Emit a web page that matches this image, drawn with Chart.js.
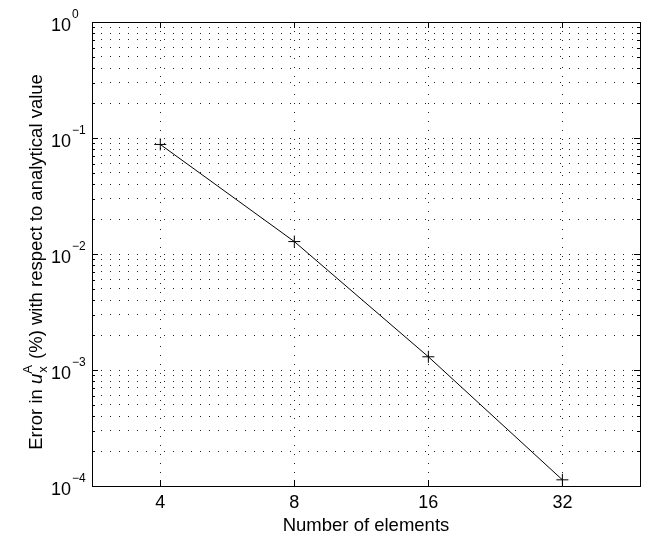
<!DOCTYPE html>
<html>
<head>
<meta charset="utf-8">
<script src="https://cdn.jsdelivr.net/npm/chart.js@4.4.1/dist/chart.umd.min.js"></script>
<style>
  html, body { margin: 0; padding: 0; background: #fff; }
  #wrap { width: 647px; height: 537px; position: relative; }
</style>
</head>
<body>
<div id="wrap"><canvas id="convChart"></canvas></div>
<script>
// Convergence of the error versus mesh refinement
const nElements = [4, 8, 16, 32];
const errorPct = [0.088, 0.0128, 0.0013, 0.000113];
const xTickValues = [4, 8, 16, 32];
const yDecades = [0, -1, -2, -3, -4];

const FONT = '"Liberation Sans", Arial, Helvetica, sans-serif';

// ticks for every 1..9 x 10^n on the log axis
function logTicks(minExp, maxExp) {
    const out = [];
    for (let e = minExp; e < maxExp; e++) {
        for (let k = 1; k <= 9; k++) out.push({ value: k * Math.pow(10, e) });
    }
    out.push({ value: Math.pow(10, maxExp) });
    return out;
}

// box, inward tick marks, 10^n labels and the y title with sub/superscripts
const matlabAxes = {
    id: 'matlabAxes',
    afterDraw(chart) {
        const ctx = chart.ctx;
        const a = chart.chartArea;
        const xs = chart.scales.x;
        const ys = chart.scales.y;
        ctx.save();
        ctx.strokeStyle = '#000';
        ctx.lineWidth = 1;
        ctx.strokeRect(Math.round(a.left) + 0.5, Math.round(a.top) + 0.5,
            Math.round(a.right - a.left), Math.round(a.bottom - a.top));

        ctx.beginPath();
        xTickValues.forEach(v => {
            const px = Math.round(xs.getPixelForValue(v)) + 0.5;
            ctx.moveTo(px, a.bottom); ctx.lineTo(px, a.bottom - 6);
            ctx.moveTo(px, a.top); ctx.lineTo(px, a.top + 6);
        });
        ys.ticks.forEach(t => {
            const py = Math.round(ys.getPixelForValue(t.value)) + 0.5;
            const major = Math.abs(Math.log10(t.value) - Math.round(Math.log10(t.value))) < 1e-9;
            const len = major ? 6 : 3;
            ctx.moveTo(a.left, py); ctx.lineTo(a.left + len, py);
            ctx.moveTo(a.right, py); ctx.lineTo(a.right - len, py);
        });
        ctx.stroke();

        // y tick labels: 10 with raised exponent
        ctx.fillStyle = '#000';
        ctx.textBaseline = 'alphabetic';
        yDecades.forEach(e => {
            const py = ys.getPixelForValue(Math.pow(10, e));
            ctx.font = '18px ' + FONT;
            ctx.textAlign = 'right';
            ctx.fillText('10', 71, py + 8.5);
            ctx.font = '12px ' + FONT;
            ctx.textAlign = 'left';
            ctx.fillText(e === 0 ? '0' : '\u2212' + Math.abs(e), 72, py - 4);
        });

        // rotated y title
        const parts = [
            { t: 'Error in ', f: '18.5px ' + FONT },
            { t: 'u', f: 'italic 18.5px ' + FONT },
            { sup: 'A', sub: 'x', f: '13px ' + FONT },
            { t: ' (%) with respect to analytical value', f: '18.5px ' + FONT }
        ];
        let total = 0;
        parts.forEach(p => {
            ctx.font = p.f;
            p.w = p.t !== undefined ? ctx.measureText(p.t).width
                : Math.max(ctx.measureText(p.sup).width, ctx.measureText(p.sub).width) + 1;
            total += p.w;
        });
        const cy = (a.top + a.bottom) / 2 + 8;
        ctx.translate(42, cy);
        ctx.rotate(-Math.PI / 2);
        ctx.textAlign = 'left';
        let x = -total / 2;
        parts.forEach(p => {
            ctx.font = p.f;
            if (p.t !== undefined) {
                ctx.fillText(p.t, x, 0);
            } else {
                ctx.fillText(p.sup, x, -10);
                ctx.fillText(p.sub, x + 1, 5);
            }
            x += p.w;
        });
        ctx.restore();
    }
};

const ctx = document.getElementById('convChart').getContext('2d');
new Chart(ctx, {
    type: 'line',
    data: {
        labels: nElements,
        datasets: [{
            data: nElements.map((n, i) => ({ x: n, y: errorPct[i] })),
            borderColor: '#000',
            borderWidth: 1,
            pointStyle: 'cross',
            pointRadius: 6,
            pointBorderWidth: 1,
            pointBorderColor: '#000',
            fill: false,
            tension: 0
        }]
    },
    options: {
        responsive: true,
        maintainAspectRatio: false,
        animation: false,
        devicePixelRatio: 1,
        layout: { padding: { left: 0, right: 3, top: 22, bottom: 0 } },
        plugins: {
            legend: { display: false },
            tooltip: { enabled: false }
        },
        scales: {
            x: {
                type: 'logarithmic',
                min: 2.81,
                max: 47.8,
                afterBuildTicks: s => { s.ticks = xTickValues.map(v => ({ value: v })); },
                afterFit: s => { s.height = 51; },
                ticks: {
                    color: '#000',
                    font: { family: FONT, size: 18 },
                    padding: 6,
                    maxRotation: 0,
                    autoSkip: false,
                    callback: v => String(v)
                },
                grid: { color: '#222', lineWidth: 1, drawTicks: false },
                border: { display: false, dash: [1, 8] },
                title: {
                    display: true,
                    text: 'Number of elements',
                    color: '#000',
                    font: { family: FONT, size: 18.5 },
                    padding: { top: 1, bottom: 0 }
                }
            },
            y: {
                type: 'logarithmic',
                min: 1e-4,
                max: 1,
                afterBuildTicks: s => { s.ticks = logTicks(-4, 0); },
                afterFit: s => { s.width = 92; },
                ticks: { display: false },
                grid: { color: '#222', lineWidth: 1, drawTicks: false },
                border: { display: false, dash: [1, 8] }
            }
        }
    },
    plugins: [matlabAxes]
});
</script>
</body>
</html>
